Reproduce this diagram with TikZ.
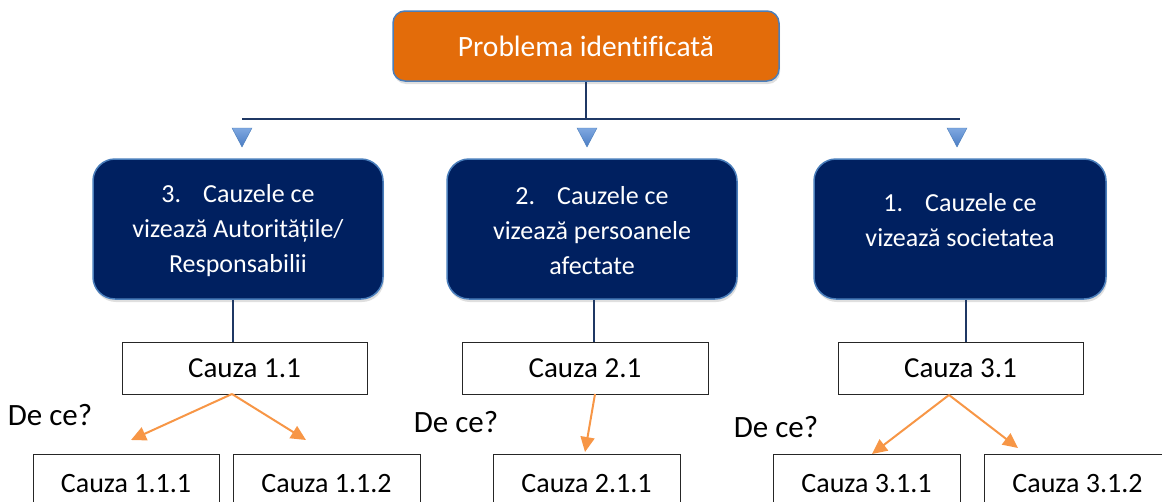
\documentclass[tikz,border=0pt]{standalone}
\usepackage{fontspec}
\setmainfont{Carlito}[Ligatures=NoCommon]
\usetikzlibrary{arrows.meta,shadows}
\definecolor{toporange}{HTML}{E36C0A}
\definecolor{boxnavy}{HTML}{002060}
\definecolor{edgeblue}{HTML}{4A7EBB}
\definecolor{linenavy}{HTML}{1F3864}
\definecolor{arroworange}{HTML}{F79646}
\definecolor{trilight}{HTML}{7FA8E0}
\definecolor{tridark}{HTML}{4A7CC4}
\begin{document}
\begin{tikzpicture}[x=1pt,y=-1pt,
  topbox/.style={draw=edgeblue,line width=1.5pt,fill=toporange,rounded corners=12pt,
    minimum width=386pt,minimum height=70pt,text=white,inner sep=0pt,
    font=\fontsize{29.5}{34}\selectfont,
    drop shadow={shadow xshift=1pt,shadow yshift=-3pt,opacity=0.25}},
  midbox/.style={draw=edgeblue,line width=1.5pt,fill=boxnavy,rounded corners=22pt,
    minimum width=290pt,minimum height=140pt,text=white,align=center,inner sep=0pt,
    font=\fontsize{26}{35}\selectfont,
    drop shadow={shadow xshift=1pt,shadow yshift=-3pt,opacity=0.25}},
  midtext/.style={text=white,align=center,inner sep=0pt,font=\fontsize{26}{35}\selectfont},
  causebox/.style={draw=black!85,line width=1pt,fill=white,minimum width=245pt,
    minimum height=52pt,inner sep=0pt,font=\fontsize{29}{34}\selectfont},
  subbox/.style={draw=black!85,line width=1pt,fill=white,minimum width=187pt,
    minimum height=60pt,inner sep=0pt,font=\fontsize{28}{34}\selectfont},
  whylabel/.style={inner sep=0pt,font=\fontsize{31}{36}\selectfont},
  navyline/.style={draw=linenavy,line width=2pt},
  whyarrow/.style={draw=arroworange,line width=2pt,-{Triangle[length=15pt,width=14pt]}},
  tri/.style={top color=trilight,bottom color=tridark,draw=edgeblue,line width=0.4pt}
]
\useasboundingbox (0,0) rectangle (1162,501);
\clip (0,0) rectangle (1162,501);

% top
\node[topbox] (top) at (586,46) {Problema identificată};

% horizontal bus
\coordinate (busL) at (242,119);
\coordinate (busR) at (960,119);
\draw[navyline] (top.south) -- (top.south |- busL);
\draw[navyline] (busL) -- (busR);

% triangles
\coordinate (t3) at (242,128);
\coordinate (t2) at (587,128);
\coordinate (t1) at (957,128);
\foreach \t in {t3,t2,t1}{
  \shade[tri] ([xshift=-10pt]\t) -- ([xshift=10pt]\t) -- ([yshift=-19pt]\t) -- cycle;
}

% middle boxes
\node[midbox] (m3) at (238,229) {};
\node[midtext] (m3t) at (238,231) {3.\hspace{22pt}Cauzele ce\\vizează Autoritățile/\\Responsabilii};
\node[midbox] (m2) at (592,229) {};
\node[midtext] (m2t) at (592,231) {2.\hspace{22pt}Cauzele ce\\vizează persoanele\\afectate};
\node[midbox,minimum width=292pt] (m1) at (960,229) {};
\node[midtext] (m1t) at (960,220) {1.\hspace{22pt}Cauzele ce\\vizează societatea};

% cause boxes
\node[causebox] (k11) at (244.5,368) {Cauza 1.1};
\node[causebox,minimum width=246pt] (k21) at (585,368) {Cauza 2.1};
\node[causebox] (k31) at (960.5,368) {Cauza 3.1};

\coordinate (v3) at (233,342);
\coordinate (v2) at (594,342);
\coordinate (v1) at (966,342);
\draw[navyline,line width=1.6pt] (v3 |- m3.south) -- (v3);
\draw[navyline,line width=1.6pt] (v2 |- m2.south) -- (v2);
\draw[navyline,line width=1.6pt] (v1 |- m1.south) -- (v1);

% sub boxes
\node[subbox,minimum width=186pt] (k111) at (126,484) {Cauza 1.1.1};
\node[subbox] (k112) at (326.5,484) {Cauza 1.1.2};
\node[subbox] (k211) at (586.5,484) {Cauza 2.1.1};
\node[subbox] (k311) at (866.5,484) {Cauza 3.1.1};
\node[subbox] (k312) at (1077.5,484) {Cauza 3.1.2};

% why arrows
\coordinate (a1s) at (232,394);
\coordinate (a1l) at (131,440);
\coordinate (a1r) at (306,440);
\coordinate (a2s) at (595,394);
\coordinate (a2e) at (585,452);
\coordinate (a3s) at (949,395);
\coordinate (a3l) at (872,454);
\coordinate (a3r) at (1018,448);
\draw[whyarrow] (a1s) -- (a1l);
\draw[whyarrow] (a1s) -- (a1r);
\draw[whyarrow] (a2s) -- (a2e);
\draw[whyarrow] (a3s) -- (a3l);
\draw[whyarrow] (a3s) -- (a3r);

% labels
\node[whylabel] (w1) at (50,415) {De ce?};
\node[whylabel] (w2) at (456,422) {De ce?};
\node[whylabel] (w3) at (776,427) {De ce?};
\end{tikzpicture}
\end{document}
